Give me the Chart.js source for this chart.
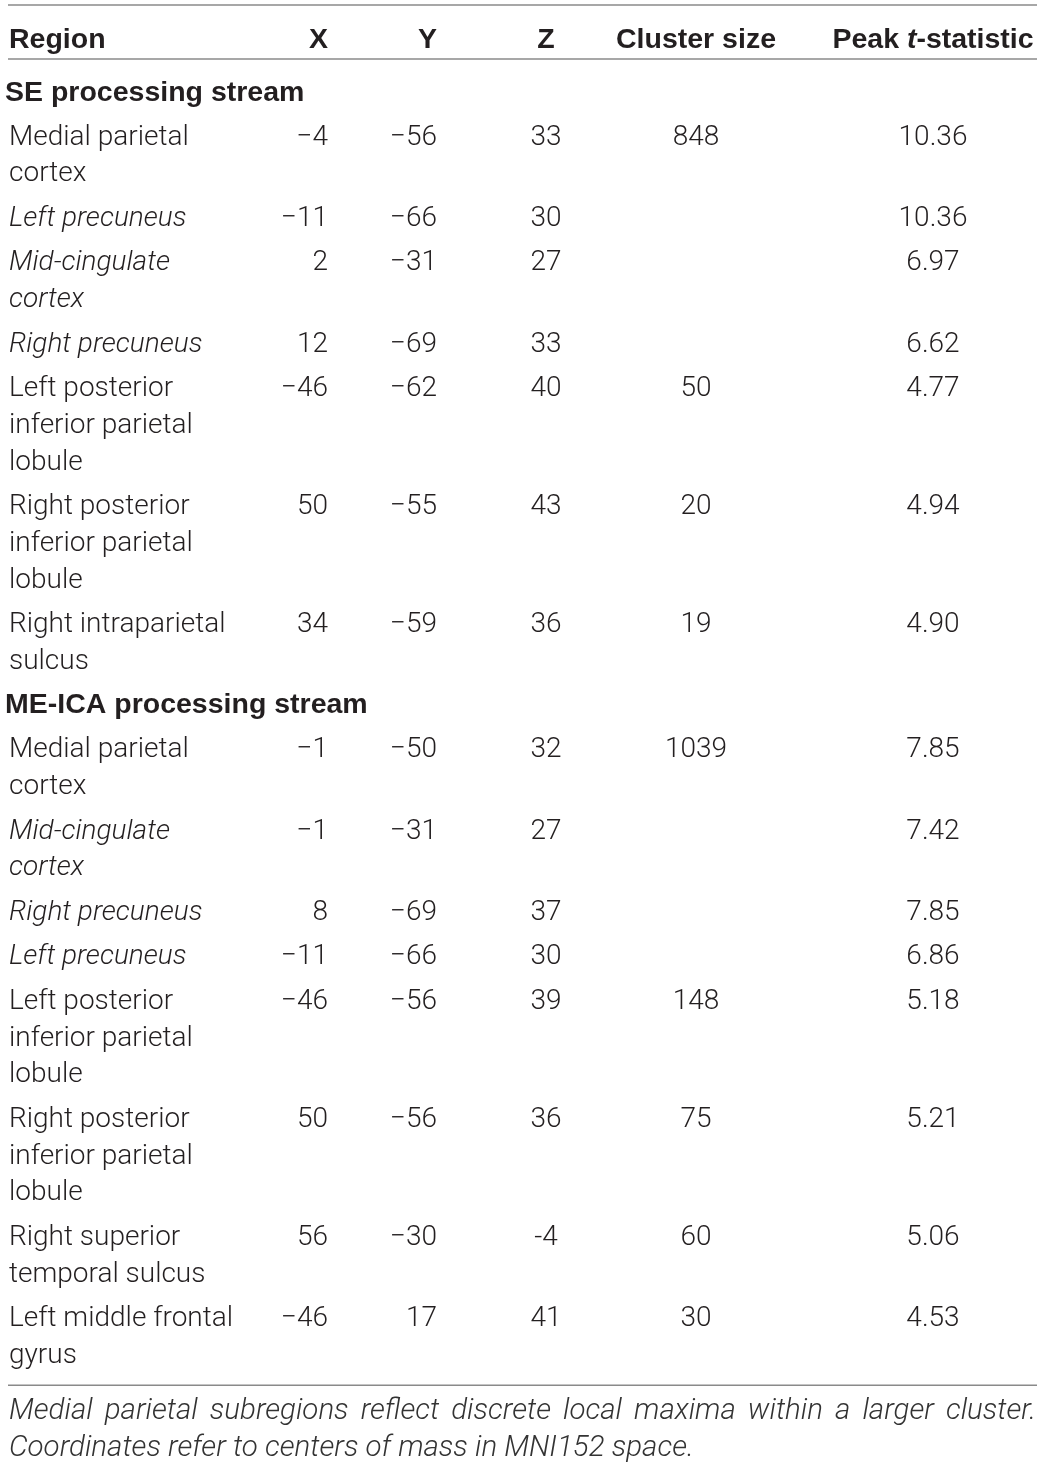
<!DOCTYPE html>
<html lang="en">
<head>
<meta charset="utf-8"/>
<title>Peak activations table</title>
<style>
  body { margin: 0; padding: 0; background: #fff; }
  #wrap { width: 1043px; height: 1466px; position: relative; }
</style>
</head>
<body>
<div id="wrap"><canvas id="chart"></canvas></div>
<script src="https://cdn.jsdelivr.net/npm/chart.js"></script>
<script>
// ---- table content ----
const sections = ["SE processing stream", "ME-ICA processing stream"];
const sectionRows = [7, 8];   // rows belonging to each section, in order

const regions = [
  ["Medial parietal", "cortex"],
  ["Left precuneus"],
  ["Mid-cingulate", "cortex"],
  ["Right precuneus"],
  ["Left posterior", "inferior parietal", "lobule"],
  ["Right posterior", "inferior parietal", "lobule"],
  ["Right intraparietal", "sulcus"],
  ["Medial parietal", "cortex"],
  ["Mid-cingulate", "cortex"],
  ["Right precuneus"],
  ["Left precuneus"],
  ["Left posterior", "inferior parietal", "lobule"],
  ["Right posterior", "inferior parietal", "lobule"],
  ["Right superior", "temporal sulcus"],
  ["Left middle frontal", "gyrus"]
];
const subregion = [false, true, true, true, false, false, false,
                   false, true, true, true, false, false, false, false];

const coordX = ["−4", "−11", "2", "12", "−46", "50", "34",
                "−1", "−1", "8", "−11", "−46", "50", "56", "−46"];
const coordY = ["−56", "−66", "−31", "−69", "−62", "−55", "−59",
                "−50", "−31", "−69", "−66", "−56", "−56", "−30", "17"];
const coordZ = ["33", "30", "27", "33", "40", "43", "36",
                "32", "27", "37", "30", "39", "36", "-4", "41"];
const clusterSize = ["848", "", "", "", "50", "20", "19",
                     "1039", "", "", "", "148", "75", "60", "30"];
const peakT = ["10.36", "10.36", "6.97", "6.62", "4.77", "4.94", "4.90",
               "7.85", "7.42", "7.85", "6.86", "5.18", "5.21", "5.06", "4.53"];

const noteLines = [
  "Medial parietal subregions reflect discrete local maxima within a larger cluster.",
  "Coordinates refer to centers of mass in MNI152 space."
];

// ---- layout ----
const W = 1043, H = 1466;
const LINE = 36.75, GAP = 7.75, SEC_TO_ROW = 44, BASE = 10.5;
const colX = [9, 328, 437, 546, 696, 933];
const colAlign = ["left", "right", "right", "center", "center", "center"];
const INK = "#231f20";
const LIGHT = "300 28px Roboto";
const LIGHT_IT = "italic 300 28px Roboto";
const NOTE = "italic 300 29.5px Roboto";
const BOLD = "bold 28.5px 'Liberation Sans'";
const BOLD_IT = "italic bold 28.5px 'Liberation Sans'";

// work out the vertical position of every text line
const rowTop = [];
const sectionY = [];
let y = 90, r = 0;
sectionRows.forEach((n, s) => {
  sectionY.push(y);
  y += SEC_TO_ROW;
  for (let k = 0; k < n; k++, r++) {
    rowTop.push(y);
    y += regions[r].length * LINE + GAP;
  }
});
const lastRow = rowTop.length - 1;
const lastLine = rowTop[lastRow] + (regions[lastRow].length - 1) * LINE;

function colDataset(col, values, font) {
  return {
    data: values.map((v, i) => ({ x: colX[col], y: rowTop[i] + BASE })),
    texts: values, align: colAlign[col], font: font,
    pointRadius: 0, showLine: false
  };
}

const regionPts = [], regionTexts = [], regionFonts = [];
regions.forEach((lines, i) => {
  lines.forEach((ln, k) => {
    regionPts.push({ x: colX[0], y: rowTop[i] + k * LINE + BASE });
    regionTexts.push(ln);
    regionFonts.push(subregion[i] ? LIGHT_IT : LIGHT);
  });
});

const datasets = [
  { data: regionPts, texts: regionTexts, fonts: regionFonts, align: "left", pointRadius: 0 },
  colDataset(1, coordX, LIGHT),
  colDataset(2, coordY, LIGHT),
  colDataset(3, coordZ, LIGHT),
  colDataset(4, clusterSize, LIGHT),
  colDataset(5, peakT, LIGHT),
  { data: sections.map((s, i) => ({ x: 5, y: sectionY[i] + BASE })), texts: sections,
    font: BOLD, align: "left", pointRadius: 0 }
];

function drawSegments(ctx, segs, cx, by, align) {
  let total = 0;
  segs.forEach(s => { ctx.font = s[1]; total += ctx.measureText(s[0]).width; });
  let x = align === "center" ? cx - total / 2 : align === "right" ? cx - total : cx;
  ctx.textAlign = "left";
  segs.forEach(s => { ctx.font = s[1]; ctx.fillText(s[0], x, by); x += ctx.measureText(s[0]).width; });
}

const tablePlugin = {
  id: "tableText",
  afterDatasetsDraw(chart) {
    const ctx = chart.ctx, sx = chart.scales.x, sy = chart.scales.y;
    ctx.save();
    ctx.fillStyle = INK;
    ctx.textBaseline = "alphabetic";

    // rules
    ctx.strokeStyle = "#8a8a8a";
    ctx.lineWidth = 1.5;
    [5, 59, lastLine + 33].forEach(v => {
      const py = sy.getPixelForValue(v);
      ctx.beginPath();
      ctx.moveTo(sx.getPixelForValue(8), py);
      ctx.lineTo(sx.getPixelForValue(1037), py);
      ctx.stroke();
    });

    // header row
    const hy = sy.getPixelForValue(37 + BASE);
    drawSegments(ctx, [["Region", BOLD]], sx.getPixelForValue(colX[0]), hy, "left");
    drawSegments(ctx, [["X", BOLD]], sx.getPixelForValue(colX[1]), hy, "right");
    drawSegments(ctx, [["Y", BOLD]], sx.getPixelForValue(colX[2]), hy, "right");
    drawSegments(ctx, [["Z", BOLD]], sx.getPixelForValue(colX[3]), hy, "center");
    drawSegments(ctx, [["Cluster size", BOLD]], sx.getPixelForValue(colX[4]), hy, "center");
    drawSegments(ctx, [["Peak ", BOLD], ["t", BOLD_IT], ["-statistic", BOLD]],
                 sx.getPixelForValue(colX[5]), hy, "center");

    // cells
    chart.data.datasets.forEach((ds, i) => {
      const meta = chart.getDatasetMeta(i);
      meta.data.forEach((el, j) => {
        const txt = ds.texts[j];
        if (!txt) return;
        ctx.font = ds.fonts ? ds.fonts[j] : ds.font;
        ctx.textAlign = ds.align;
        ctx.fillText(txt, el.x, el.y);
      });
    });

    // footnote, first line justified
    ctx.fillStyle = "#333";
    ctx.font = NOTE;
    const left = sx.getPixelForValue(9), right = sx.getPixelForValue(1036);
    noteLines.forEach((ln, k) => {
      const by = sy.getPixelForValue(lastLine + 56 + BASE + k * LINE);
      ctx.textAlign = "left";
      if (k < noteLines.length - 1) {
        const words = ln.split(" ");
        const wsum = words.reduce((a, w) => a + ctx.measureText(w).width, 0);
        const space = (right - left - wsum) / (words.length - 1);
        let x = left;
        words.forEach(w => { ctx.fillText(w, x, by); x += ctx.measureText(w).width + space; });
      } else {
        ctx.fillText(ln, left, by);
      }
    });
    ctx.restore();
  }
};

new Chart(document.getElementById("chart"), {
  type: "scatter",
  data: { datasets: datasets },
  options: {
    responsive: true,
    maintainAspectRatio: false,
    animation: false,
    layout: { padding: 0 },
    plugins: { legend: { display: false }, tooltip: { enabled: false } },
    scales: {
      x: { type: "linear", display: false, min: 0, max: W },
      y: { type: "linear", display: false, min: 0, max: H, reverse: true }
    }
  },
  plugins: [tablePlugin]
});
</script>
</body>
</html>
